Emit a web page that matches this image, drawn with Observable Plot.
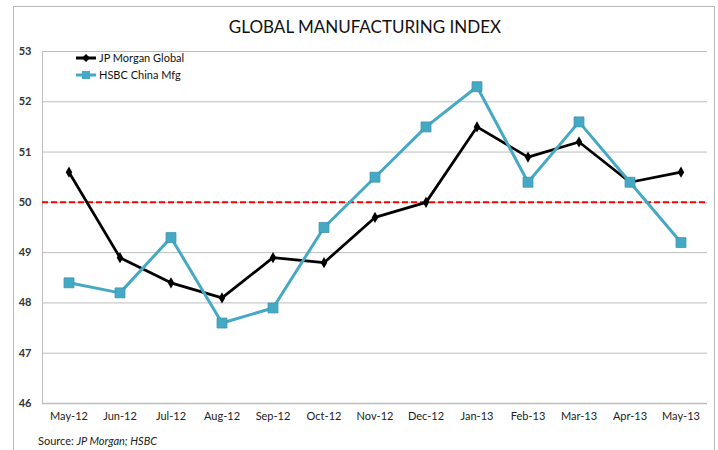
<!DOCTYPE html>
<html>
<head>
<meta charset="utf-8">
<script src="https://cdn.jsdelivr.net/npm/d3@7"></script>
<script src="https://cdn.jsdelivr.net/npm/@observablehq/plot@0.6"></script>
<style>
  html, body { margin: 0; padding: 0; background: #fff; }
  #wrap { position: relative; width: 718px; height: 450px; overflow: hidden; font-family: Lato, "Open Sans", sans-serif; }
  #border { position: absolute; left: 13px; top: 6px; width: 702px; height: 460px; border: 1px solid #b8b8b8; box-sizing: border-box; }
  #title { position: absolute; left: 13px; width: 704px; top: 16px; text-align: center; font-size: 17px; color: #111; }
  #legend { position: absolute; left: 75px; top: 49px; font-size: 11px; color: #111; }
  #legend div { height: 17px; display: flex; align-items: center; }
  #legend svg { margin-right: 2px; }
  #source { position: absolute; left: 38px; top: 434px; font-size: 11px; color: #222; }
  #chart { position: absolute; left: 0; top: 0; }
</style>
</head>
<body>
<div id="wrap">
  <div id="border"></div>
  <div id="chart"></div>
  <div id="title">GLOBAL MANUFACTURING INDEX</div>
  <div id="legend"></div>
  <div id="source">Source: <i>JP Morgan; HSBC</i></div>
</div>
<script>
const months = ["May-12","Jun-12","Jul-12","Aug-12","Sep-12","Oct-12","Nov-12","Dec-12","Jan-13","Feb-13","Mar-13","Apr-13","May-13"];
const jpMorgan = [50.6, 48.9, 48.4, 48.1, 48.9, 48.8, 49.7, 50.0, 51.5, 50.9, 51.2, 50.4, 50.6];
const hsbc = [48.4, 48.2, 49.3, 47.6, 47.9, 49.5, 50.5, 51.5, 52.3, 50.4, 51.6, 50.4, 49.2];
const seriesNames = ["JP Morgan Global", "HSBC China Mfg"];
const yTicks = [46, 47, 48, 49, 50, 51, 52, 53];
const threshold = 50;

const colJP = "#000000";
const colHS = "#46a9c4";

const jpData = months.map((m, i) => ({month: m, value: jpMorgan[i]}));
const hsData = months.map((m, i) => ({month: m, value: hsbc[i]}));

const chart = Plot.plot({
  width: 718,
  height: 450,
  marginLeft: 42,
  marginRight: 11,
  marginTop: 51,
  marginBottom: 47,
  style: {fontFamily: "Lato, 'Open Sans', sans-serif", fontSize: "11px", color: "#222", background: "transparent"},
  x: {type: "band", domain: months, padding: 0, label: null},
  y: {domain: [46, 53], label: null},
  marks: [
    Plot.gridY(yTicks, {stroke: "#bdbdbd", strokeOpacity: 1, strokeWidth: 1}),
    Plot.frame({anchor: "left", stroke: "#bdbdbd"}),
    Plot.ruleY([46], {stroke: "#bdbdbd", strokeWidth: 1.5}),
    Plot.axisY(yTicks, {tickSize: 0, tickPadding: 11, tickFormat: "d", fontSize: 11, fontWeight: "bold", fill: "#333"}),
    Plot.axisX({tickSize: 0, tickPadding: 9, fontSize: 11, fill: "#222"}),
    Plot.ruleY([threshold], {stroke: "#ff0000", strokeWidth: 2, strokeDasharray: "6,3"}),
    Plot.line(jpData, {x: "month", y: "value", stroke: colJP, strokeWidth: 2.75}),
    Plot.dot(jpData, {x: "month", y: "value", symbol: "diamond", r: 3.4, fill: colJP}),
    Plot.line(hsData, {x: "month", y: "value", stroke: colHS, strokeWidth: 3}),
    Plot.dot(hsData, {x: "month", y: "value", symbol: "square", r: 5.6, fill: colHS, stroke: "#3796b2", strokeWidth: 0.8})
  ]
});
document.getElementById("chart").appendChild(chart);

const legend = document.getElementById("legend");
const swatches = [
  `<svg width="22" height="10"><line x1="1" x2="21" y1="5" y2="5" stroke="${colJP}" stroke-width="3"/><path d="M11,1 L15,5 L11,9 L7,5Z" fill="${colJP}"/></svg>`,
  `<svg width="22" height="10"><line x1="1" x2="21" y1="5" y2="5" stroke="${colHS}" stroke-width="3"/><rect x="7" y="1" width="8" height="8" fill="${colHS}"/></svg>`
];
seriesNames.forEach((n, i) => {
  const d = document.createElement("div");
  d.innerHTML = swatches[i] + "<span>" + n + "</span>";
  legend.appendChild(d);
});
</script>
</body>
</html>
